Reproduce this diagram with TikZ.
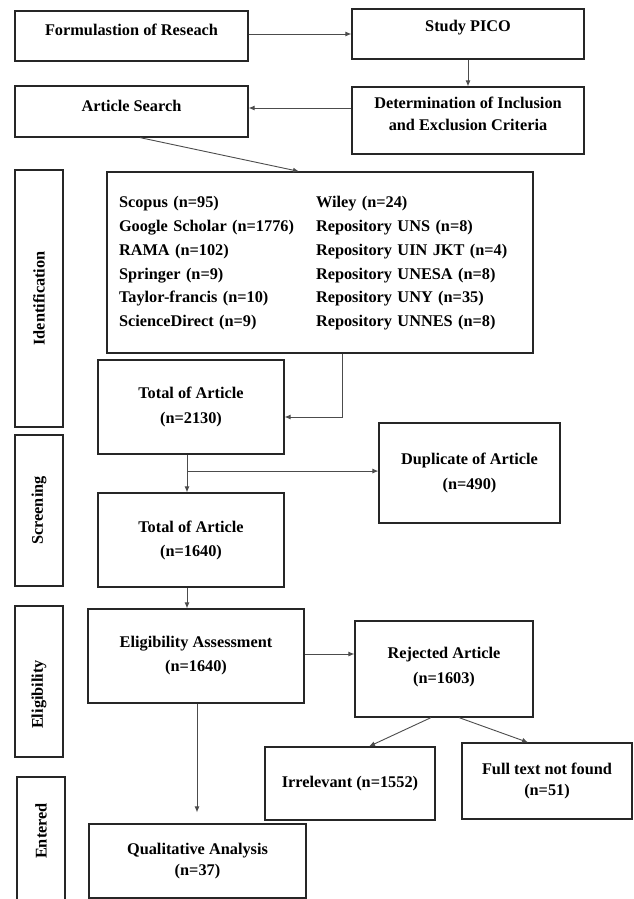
\documentclass[tikz,border=0pt]{standalone}
\usepackage{fontspec}
\setmainfont{Liberation Serif}
\usetikzlibrary{arrows.meta,calc}
\begin{document}
\begin{tikzpicture}[x=1pt,y=-1pt,
  box/.style={draw=black!85, line width=1.2pt, align=center, inner sep=2pt,
    font=\fontsize{16.3}{24}\selectfont\bfseries},
  sidebox/.style={box, rotate=90, minimum height=48},
  conn/.style={draw=black!70, line width=0.9pt},
  arr/.style={conn, -{Latex[length=6pt,width=5pt]}},
]
\useasboundingbox (0,0) rectangle (633,899);
\clip (0,0) rectangle (633,899);
\fill[white] (0,0) rectangle (633,899);

% top row
\node[box, minimum width=233, minimum height=50] (form) at (131.5,36)
  {\raisebox{6pt}[\height][\depth]{Formulastion of Reseach}};
\node[box, minimum width=232, minimum height=50] (pico) at (468,34)
  {\raisebox{6pt}[\height][\depth]{Study PICO}};
\node[box, minimum width=233, minimum height=51] (as) at (131.5,111.5)
  {\raisebox{5.5pt}[\height][\depth]{Article Search}};
\node[box, minimum width=232, minimum height=67,
      font=\fontsize{16.3}{22}\selectfont\bfseries] (det) at (468,120.5)
  {\raisebox{5.5pt}[\height][\depth]{\begin{tabular}{@{}c@{}}Determination of Inclusion\\and Exclusion Criteria\end{tabular}}};

% side boxes
\node[sidebox, minimum width=257] (ident) at (39,298.5) {Identification};
\node[sidebox, minimum width=151] (screen) at (39,510.5) {Screening};
\node[sidebox, minimum width=151] (eligside) at (39,681.5) {\kern-13pt Eligibility\kern13pt};
\node[sidebox, minimum width=133] (entered) at (41,843.5) {\kern12.5pt Entered\kern-12.5pt};

% sources
\node[box, minimum width=426, minimum height=181, text width=402, inner xsep=12pt,
      align=left, font=\fontsize{16.3}{23.7}\selectfont\bfseries] (src) at (320,262.5)
  {\begin{tabular}{@{}p{197pt}@{}l@{}}
   Scopus (n=95) & Wiley (n=24)\\
   Google Scholar (n=1776) & Repository UNS (n=8)\\
   RAMA (n=102) & Repository UIN JKT (n=4)\\
   Springer (n=9) & Repository UNESA (n=8)\\
   Taylor-francis (n=10) & Repository UNY (n=35)\\
   ScienceDirect (n=9) & Repository UNNES (n=8)
   \end{tabular}};

% flow boxes
\node[box, minimum width=186, minimum height=94, font=\fontsize{16.3}{25}\selectfont\bfseries]
  (t2130) at (191,407) {Total of Article\\(n=2130)};
\node[box, minimum width=181, minimum height=100, font=\fontsize{16.3}{25}\selectfont\bfseries]
  (dup) at (469.5,473) {Duplicate of Article\\(n=490)};
\node[box, minimum width=186, minimum height=94]
  (t1640) at (191,540) {Total of Article\\(n=1640)};
\node[box, minimum width=216, minimum height=94]
  (elig) at (196,656) {Eligibility Assessment\\(n=1640)};
\node[box, minimum width=178, minimum height=96, font=\fontsize{16.3}{25}\selectfont\bfseries]
  (rej) at (444,669) {\raisebox{3pt}[\height][\depth]{\begin{tabular}{@{}c@{}}Rejected Article\\(n=1603)\end{tabular}}};
\node[box, minimum width=170, minimum height=73]
  (irr) at (350,783.5) {Irrelevant (n=1552)};
\node[box, minimum width=170, minimum height=76, font=\fontsize{16.3}{21}\selectfont\bfseries]
  (full) at (547,781) {Full text not found\\(n=51)};
\node[box, minimum width=217, minimum height=74, font=\fontsize{16.3}{21}\selectfont\bfseries]
  (qual) at (197.5,861) {Qualitative Analysis\\(n=37)};

% connectors
\draw[arr] (pico.west -| form.east) -- (pico.west);
\draw[arr] (pico.south) -- (det.north);
\coordinate (asR) at ([yshift=3.5pt]as.east);
\draw[arr] (asR -| det.west) -- (asR);
\draw[arr] ([xshift=8.5pt]as.south) -- ([xshift=-21pt]src.north);
\coordinate (t2130R) at ([yshift=-10pt]t2130.east);
\draw[arr] ([xshift=22pt]src.south) |- (t2130R);
\coordinate (t21S) at ([xshift=-4pt]t2130.south);
\coordinate (t16N) at ([xshift=-4pt]t1640.north);
\draw[arr] (t21S) -- (t16N);
\coordinate (br) at ($(t21S)!0.436!(t16N)$);
\draw[arr] (br) -- (br -| dup.west);
\coordinate (t16S) at ([xshift=-4pt]t1640.south);
\draw[arr] (t16S) -- (t16S |- elig.north);
\coordinate (elR) at ([yshift=2pt]elig.east);
\draw[arr] (elR) -- (elR -| rej.west);
\draw[arr] ([xshift=-13pt]rej.south) -- ([xshift=19pt]irr.north);
\draw[arr] ([xshift=15pt]rej.south) -- ([xshift=-19pt]full.north);
\coordinate (elS) at ([xshift=1pt]elig.south);
\draw[arr, shorten >=11pt] (elS) -- (elS |- qual.north);
\end{tikzpicture}
\end{document}
